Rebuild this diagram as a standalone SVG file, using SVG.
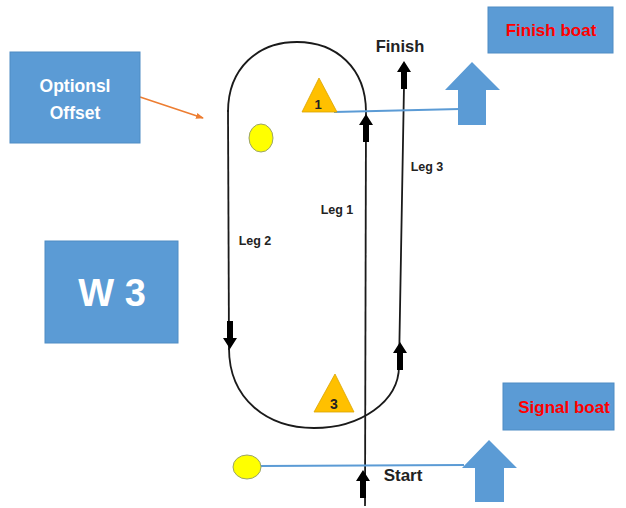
<svg xmlns="http://www.w3.org/2000/svg" width="626" height="508" viewBox="0 0 626 508">
<style>
.box{fill:#5B9BD5;stroke:#4f8cc4;stroke-width:1}
.course{fill:none;stroke:#1a1a1a;stroke-width:1.8}
.blue{fill:none;stroke:#5B9BD5;stroke-width:1.8}
.big{fill:#5B9BD5}
.tri{fill:#FFC000;stroke:#d9a300;stroke-width:0.8}
.buoy{fill:#FFFF00;stroke:#9aa36a;stroke-width:1}
.blk{fill:#000}
.lbl{font-family:"Liberation Sans",Arial,sans-serif;font-weight:bold;fill:#222;text-anchor:middle}
.wt{font-family:"Liberation Sans",Arial,sans-serif;font-weight:bold;fill:#fff;text-anchor:middle}
.rt{font-family:"Liberation Sans",Arial,sans-serif;font-weight:bold;fill:#FF0000;text-anchor:middle}
</style>
<defs>
<path id="ar" d="M0,0 L7,11 L3,11 L3,28 L-3,28 L-3,11 L-7,11 Z"/>
<marker id="oh" markerWidth="8" markerHeight="8" refX="7" refY="4" orient="auto" markerUnits="userSpaceOnUse"><path d="M0,1 L8,4 L0,7 Z" fill="#ED7D31"/></marker>
</defs>
<g id="connectors">
<path class="course" d="M228,112 C228,68 258,42 297,42 C336,42 366,68 366,112"/>
<line class="course" x1="228" y1="110" x2="229" y2="350"/>
<path class="course" d="M229,348 C229,400 268,428 314,428 C360,428 399,402 399,366 L404,86"/>
<line class="course" x1="366" y1="112" x2="365" y2="506"/>
<line class="blue" x1="334" y1="112" x2="460" y2="109"/>
<line class="blue" x1="261" y1="466" x2="464" y2="465"/>
<line x1="140" y1="97" x2="203" y2="118" stroke="#ED7D31" stroke-width="1.5" marker-end="url(#oh)"/>
<use href="#ar" class="blk" transform="translate(366,114)"/>
<use href="#ar" class="blk" transform="translate(404,61)"/>
<use href="#ar" class="blk" transform="translate(400,342)"/>
<use href="#ar" class="blk" transform="translate(363,470)"/>
<use href="#ar" class="blk" transform="translate(230,349) rotate(180)"/>
</g>
<g id="offset"><rect class="box" x="10" y="52" width="130" height="91"/><text class="wt" x="75" y="92" font-size="17.5">Optionsl</text><text class="wt" x="75" y="119" font-size="17.5">Offset</text></g>
<g id="w3"><rect class="box" x="45" y="241" width="133" height="102"/><text class="wt" x="112" y="306" font-size="38" font-weight="normal">W 3</text></g>
<g id="finishboat"><rect class="box" x="488" y="7" width="125" height="46"/><text class="rt" x="551" y="36" font-size="17">Finish boat</text></g>
<g id="signalboat"><rect class="box" x="503" y="383" width="111" height="47"/><text class="rt" x="564" y="413" font-size="17">Signal boat</text></g>
<g id="finisharrow"><path class="big" d="M472,62 L500,90 L486,90 L486,125 L458,125 L458,90 L445,90 Z"/></g>
<g id="signalarrow"><path class="big" d="M489,440 L517,468 L504,468 L504,502 L475,502 L475,468 L462,468 Z"/></g>
<g id="mark1"><polygon class="tri" points="302,112 337,112 319,78"/><text class="lbl" x="318" y="109" font-size="13" fill="#000">1</text></g>
<g id="mark3"><polygon class="tri" points="314,412 354,412 335,374"/><text class="lbl" x="334" y="409" font-size="14" fill="#000">3</text></g>
<g id="buoytop"><ellipse class="buoy" cx="261" cy="138" rx="12" ry="14"/></g>
<g id="buoybottom"><ellipse class="buoy" cx="247" cy="467" rx="14" ry="12"/></g>
<g id="labels">
<text class="lbl" x="400" y="52" font-size="16.5">Finish</text>
<text class="lbl" x="403" y="481" font-size="17">Start</text>
<text class="lbl" x="337" y="214" font-size="12.5">Leg 1</text>
<text class="lbl" x="255" y="245" font-size="12.5">Leg 2</text>
<text class="lbl" x="427" y="171" font-size="12.5">Leg 3</text>
</g>
</svg>
